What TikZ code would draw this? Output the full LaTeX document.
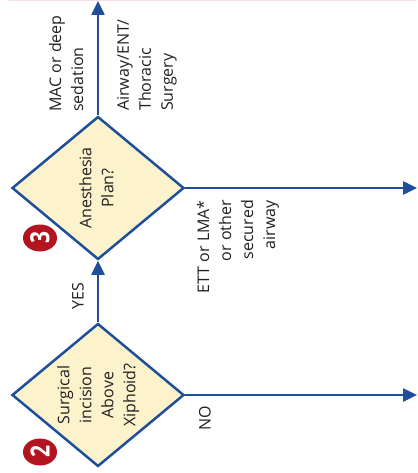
\documentclass[tikz,border=0pt]{standalone}
\usepackage{fontspec}
\setmainfont{Open Sans}
\usetikzlibrary{shapes.geometric,arrows.meta}

\definecolor{flowblue}{RGB}{31,78,155}
\definecolor{flowyellow}{RGB}{252,243,205}
\definecolor{stepred}{RGB}{180,20,32}
\definecolor{textgray}{RGB}{35,31,32}
\definecolor{edgepink}{RGB}{248,222,228}

\begin{document}
\begin{tikzpicture}[
  x=1pt, y=1pt,
  decision/.style={diamond, draw=flowblue, fill=flowyellow, line width=2.5pt, aspect=1.2, minimum width=172pt, minimum height=143pt, inner sep=0pt, font=\fontsize{16}{22}\selectfont, text=textgray},
  branch/.style={rotate=90, inner sep=0pt, font=\fontsize{16}{22}\selectfont, text=textgray},
  badge/.style={circle, fill=stepred, text=white, minimum size=27pt, inner sep=0pt, rotate=90, yscale=1.26, font=\bfseries\fontsize{21}{21}\selectfont},
  arrow/.style={->, >={Triangle[length=14pt,width=13pt]}, line width=2.5pt, draw=flowblue}
]
  \useasboundingbox (0,0) rectangle (417,-473);
  \draw[edgepink, line width=1pt] (8,-0.5) -- (417,-0.5);

  % Decisions
  \node[decision] (incision) at (98,-395) {\rotatebox{90}{\begin{tabular}{@{}c@{}}Surgical\\incision\\Above\\Xiphoid?\end{tabular}}};
  \node[decision] (plan) at (98,-188) {\rotatebox{90}{\begin{tabular}{@{}c@{}}Anesthesia\\Plan?\end{tabular}}};

  % Step numbers
  \node[badge] (step3) at (40,-238) {3};
  \node[badge] (step2) at (40,-452) {2};

  % Exits
  \coordinate (upexit) at (98,-1);
  \coordinate (airwayexit) at (417,-188);
  \coordinate (noexit) at (417,-395);

  % Arrows
  \draw[arrow] (incision.north) -- (plan.south);
  \draw[arrow] (plan.north) -- (upexit);
  \draw[arrow] (plan.east) -- (airwayexit);
  \draw[arrow] (incision.east) -- (noexit);

  % Branch labels
  \node[branch] (yes) at (78,-296) {YES};
  \node[branch] (no) at (205,-418) {NO};
  \node[branch, anchor=west, align=left] (mac) at (66,-112) {MAC or deep\\sedation};
  \node[branch, anchor=west, align=left] (surgery) at (147,-111) {Airway/ENT/\\Thoracic\\Surgery};
  \node[branch, anchor=east, align=right] (secured) at (238,-200) {ETT or LMA*\\or other\\secured\\airway};
\end{tikzpicture}
\end{document}
